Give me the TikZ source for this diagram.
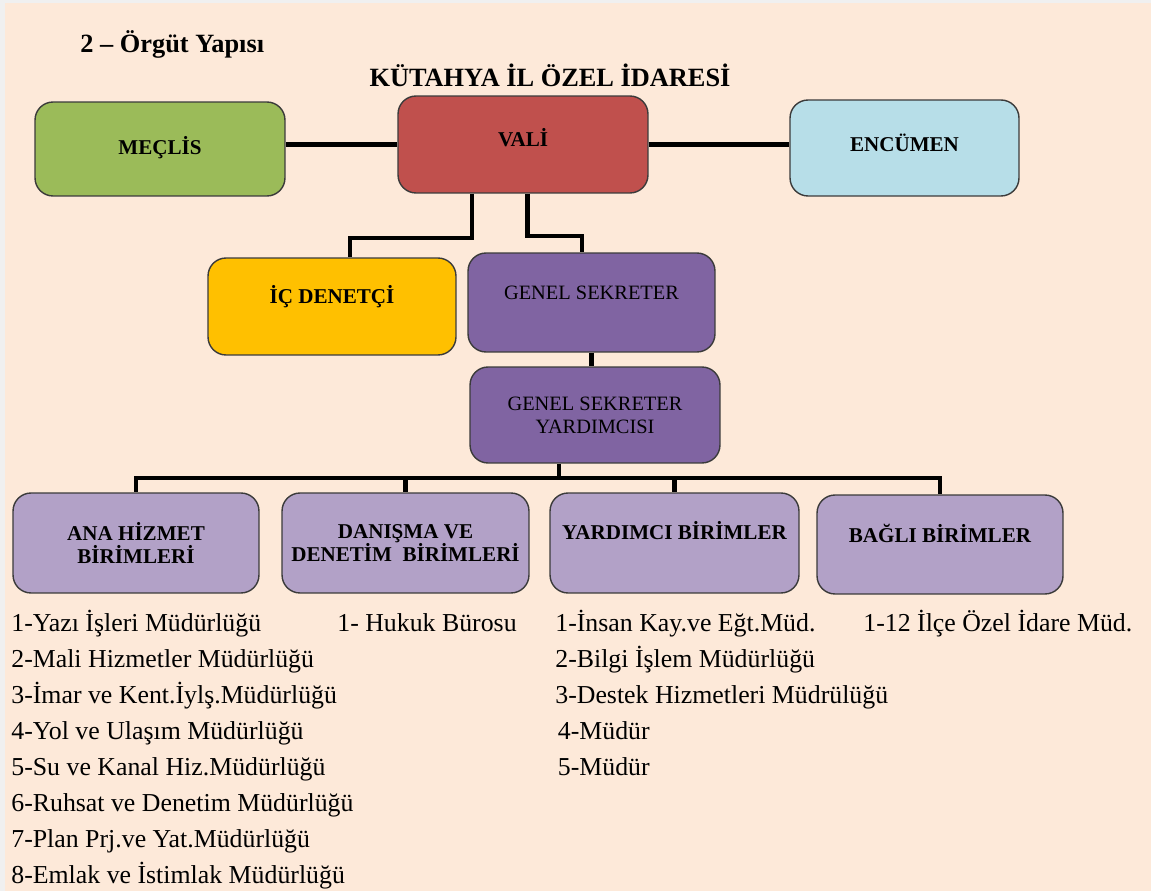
\documentclass[tikz,border=0pt]{standalone}
\usepackage{fontspec}
\setmainfont{Liberation Serif}

\definecolor{peach}{HTML}{FDE9D9}
\definecolor{meclisgreen}{HTML}{9BBB59}
\definecolor{valired}{HTML}{C0504D}
\definecolor{encblue}{HTML}{B7DEE8}
\definecolor{icyellow}{HTML}{FFC000}
\definecolor{gspurple}{HTML}{8064A2}
\definecolor{birimlilac}{HTML}{B2A1C7}
\definecolor{boxline}{HTML}{3B3B3B}

\begin{document}
\begin{tikzpicture}[x=0.02cm,y=-0.02cm,
	box/.style={draw=boxline,line width=0.8pt,rounded corners=0.36cm,
		minimum width=5cm,minimum height=1.94cm,inner xsep=2pt,align=center,
		font=\fontsize{12}{13}\selectfont\bfseries},
	plain/.style={font=\fontsize{11.6}{13}\selectfont},
	lift/.style={text height=1.5ex,text depth=#1},
	conn/.style={line width=2.3pt},
	hdr/.style={inner sep=0pt,font=\fontsize{15}{18}\selectfont\bfseries},
	item/.style={anchor=base west,inner sep=0pt,font=\fontsize{14.7}{16}\selectfont}]
	\useasboundingbox (0,0) rectangle (1151,891);
	\fill[gray!12] (0,0) rectangle (1151,891);
	\fill[peach] (5,3) rectangle (1151,891);
	
	%titles
	\node[hdr,anchor=base west] (baslik) at (80,53) {2 – Örgüt Yapısı};
	\node[hdr,anchor=base] (kurum) at (550,87) {KÜTAHYA İL ÖZEL İDARESİ};
	
	%top row
	\node[box,fill=meclisgreen,lift=0.04cm,minimum height=1.88cm] (meclis) at (160,149) {MEÇLİS};
	\node[box,fill=valired,lift=0.18cm] (vali) at (523,144.5) {VALİ};
	\node[box,fill=encblue,lift=0.12cm,minimum width=4.58cm,minimum height=1.92cm] (encumen) at (904.5,148) {ENCÜMEN};
	
	%second row
	\node[box,fill=icyellow,lift=0.38cm,minimum width=4.96cm] (icden) at (332,306.5) {İÇ DENETÇİ};
	\node[box,plain,fill=gspurple,lift=0.38cm,minimum width=4.94cm,minimum height=1.98cm] (gensek) at (591.5,302.5) {GENEL SEKRETER};
	\node[box,plain,fill=gspurple,minimum height=1.92cm] (gsy) at (595,415) {GENEL SEKRETER\\YARDIMCISI};
	
	%units
	\node[box,fill=birimlilac,minimum width=4.92cm,minimum height=2cm] (ana) at (136,543) {ANA HİZMET\\BİRİMLERİ};
	\node[box,fill=birimlilac,minimum width=4.94cm,minimum height=2cm] (danisma) at (405.5,543) {DANIŞMA VE\\DENETİM~ BİRİMLERİ};
	\node[box,fill=birimlilac,lift=0.4cm,minimum width=4.98cm,minimum height=2cm] (yardimci) at (674.5,543) {YARDIMCI BİRİMLER};
	\node[box,fill=birimlilac,lift=0.34cm,minimum width=4.92cm,minimum height=1.98cm] (bagli) at (940,544.5) {BAĞLI BİRİMLER};
	
	%connectors
	\draw[conn] (vali.west) -- (vali.west -| meclis.east);
	\draw[conn] (vali.east) -- (vali.east -| encumen.west);
	\draw[conn] ([xshift=-1.02cm]vali.south) -- ++(0,44) -| ([xshift=0.36cm]icden.north);
	\draw[conn] ([xshift=0.09cm]vali.south) -- ++(0,42) -| ([xshift=-0.19cm]gensek.north);
	\draw[conn] (gensek.south) -- (gensek.south |- gsy.north);
	\draw[conn] ([xshift=-0.72cm]gsy.south) -- ++(0,14) coordinate (bus);
	\foreach \b in {ana,danisma,yardimci,bagli}
	\draw[conn] (bus) -| (\b.north);
	
	%lists
	\foreach \t [count=\i] in {1-Yazı İşleri Müdürlüğü,2-Mali Hizmetler Müdürlüğü,3-İmar ve Kent.İylş.Müdürlüğü,4-Yol ve Ulaşım Müdürlüğü,5-Su ve Kanal Hiz.Müdürlüğü,6-Ruhsat ve Denetim Müdürlüğü,7-Plan Prj.ve Yat.Müdürlüğü,8-Emlak ve İstimlak Müdürlüğü}
	\node[item] (anab\i) at (11,{595+36*\i}) {\t};
	\node[item] (danb1) at (337,631) {1- Hukuk Bürosu};
	\foreach \x/\t [count=\i] in {555/1-İnsan Kay.ve Eğt.Müd.,555/2-Bilgi İşlem Müdürlüğü,555/3-Destek Hizmetleri Müdrülüğü,557.5/4-Müdür,557.5/5-Müdür}
	\node[item] (yarb\i) at (\x,{595+36*\i}) {\t};
	\node[item] (bagb1) at (863,631) {1-12 İlçe Özel İdare Müd.};
\end{tikzpicture}
\end{document}
